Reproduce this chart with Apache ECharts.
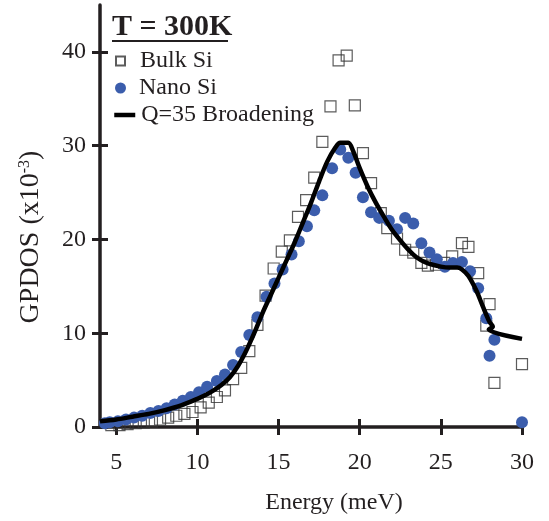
<!DOCTYPE html>
<html><head><meta charset="utf-8">
<script src="https://cdn.jsdelivr.net/npm/echarts@6/dist/echarts.min.js"></script>
<style>html,body{margin:0;padding:0;background:#fff}#c{width:549px;height:521px}</style>
</head><body><div id="c"></div>
<script>
const xTicks = [5, 10, 15, 20, 25, 30];
const yTicks = [0, 10, 20, 30, 40];
const titleText = 'T = 300K';
const legendNames = ['Bulk Si', 'Nano Si', 'Q=35 Broadening'];
const xName = 'Energy (meV)';
const yName = 'GPDOS (x10{sup|-3})';

const bulkSi = [[4.7,0.2],[5.2,0.2],[5.7,0.3],[6.2,0.4],[6.7,0.5],[7.2,0.6],[7.7,0.8],[8.2,1.0],[8.7,1.2],[9.2,1.4],[9.7,1.6],[10.2,2.1],[10.7,2.6],[11.2,3.2],[11.7,3.9],[12.2,5.1],[12.7,6.3],[13.2,8.1],[13.7,10.9],[14.2,14.0],[14.7,16.9],[15.2,18.7],[15.7,19.9],[16.2,22.4],[16.7,24.2],[17.2,26.6],[17.7,30.4],[18.2,34.2],[18.7,39.1],[19.2,39.6],[19.7,34.3],[20.2,29.2],[20.7,26.0],[21.3,22.8],[21.7,21.2],[22.3,20.1],[22.8,18.9],[23.3,18.6],[23.8,17.5],[24.2,17.2],[24.7,17.3],[25.2,17.5],[25.7,18.2],[26.3,19.6],[26.7,19.2],[27.3,16.4],[27.8,10.8],[28.0,13.1],[28.3,4.7],[30.0,6.7]];

const nanoSi = [[4.3,0.4],[4.6,0.5],[5.1,0.6],[5.6,0.8],[6.1,1.0],[6.6,1.2],[7.1,1.5],[7.6,1.7],[8.1,2.0],[8.6,2.4],[9.1,2.8],[9.6,3.2],[10.1,3.7],[10.6,4.3],[11.2,4.9],[11.7,5.6],[12.2,6.6],[12.7,8.0],[13.2,9.8],[13.7,11.7],[14.26,13.9],[14.75,15.3],[15.25,16.8],[15.8,18.4],[16.25,19.8],[16.75,21.4],[17.2,23.1],[17.7,24.7],[18.3,27.6],[18.8,29.6],[19.3,28.7],[19.75,27.1],[20.2,24.5],[20.7,22.9],[21.2,22.3],[21.8,22.0],[22.3,21.1],[22.8,22.3],[23.3,21.7],[23.8,19.6],[24.3,18.6],[24.75,17.9],[25.25,17.1],[25.75,17.5],[26.3,17.6],[26.8,16.6],[27.3,14.8],[27.8,11.6],[28.0,7.6],[28.3,9.3],[30.0,0.5]];

const broadening = [[4.0,0.6],[5,0.8],[6,1.1],[7,1.4],[8,1.8],[9,2.3],[10,3.0],[10.5,3.4],[11,3.9],[11.5,4.5],[12,5.3],[12.5,6.5],[13,8.1],[13.5,10.0],[14,12.1],[14.5,14.0],[15,15.9],[15.5,17.8],[16,19.7],[16.5,21.8],[17,23.9],[17.5,26.2],[18,28.3],[18.5,29.8],[18.8,30.3],[19.3,30.3],[19.6,29.4],[20,27.6],[20.5,25.6],[21,23.9],[21.5,22.4],[22,21.0],[22.5,19.9],[23,18.9],[23.5,18.1],[24,17.6],[24.5,17.3],[25,17.1],[25.5,17.0],[26,17.0],[26.3,16.8],[26.7,16.1],[27.2,14.5],[27.6,12.8],[28.0,11.2],[28.2,10.7],[27.95,10.4],[30,9.4]];

const INK = '#231f20';
const SERIF = '"Liberation Serif", "Times New Roman", serif';
const BLUE = '#3b5dac';

const chart = echarts.init(document.getElementById('c'), null, {renderer: 'canvas'});

const baseX = {
  type: 'value', min: 4, max: 30, gridIndex: 0, position: 'bottom',
  splitLine: {show: false}
};
const baseY = {
  type: 'value', min: 0, max: 45, gridIndex: 0, position: 'left',
  splitLine: {show: false}
};

const legendText = {fontFamily: SERIF, fontSize: 24, color: INK, lineHeight: 24};

chart.setOption({
  animation: false,
  backgroundColor: '#fff',
  grid: {left: 100, right: 27, top: 5, bottom: 94, containLabel: false, outerBoundsMode: 'none'},
  title: {
    text: titleText, left: 112, top: 12, padding: 0,
    textStyle: {fontFamily: SERIF, fontSize: 30, fontWeight: 'bold', color: INK, lineHeight: 30}
  },
  graphic: [{
    type: 'line', shape: {x1: 112, y1: 41, x2: 228, y2: 41},
    style: {stroke: INK, lineWidth: 2}
  }],
  legend: [
    {data: [legendNames[0]], left: 115, top: 49, padding: 0, itemWidth: 9, itemHeight: 9,
     selectedMode: false, textStyle: Object.assign({padding: [0,0,0,10]}, legendText)},
    {data: [legendNames[1]], left: 115, top: 76, padding: 0, itemWidth: 11, itemHeight: 11,
     selectedMode: false, textStyle: Object.assign({padding: [0,0,0,8]}, legendText)},
    {data: [legendNames[2]], left: 112, top: 103, padding: 0, itemWidth: 21, itemHeight: 4,
     selectedMode: false, lineStyle: {width: 4.5, color: '#000'},
     textStyle: Object.assign({padding: [0,0,0,1]}, legendText)}
  ],
  xAxis: [
    Object.assign({}, baseX, {
      name: xName, nameLocation: 'middle', nameGap: 64,
      nameTextStyle: {fontFamily: SERIF, fontSize: 24, color: INK, padding: [0,0,0,46]},
      axisLine: {show: true, onZero: false, lineStyle: {color: INK, width: 3.5}},
      axisTick: {show: true, inside: false, length: 8, lineStyle: {color: INK, width: 3}, customValues: xTicks},
      axisLabel: {show: true, margin: 24, fontFamily: SERIF, fontSize: 24, color: INK, customValues: xTicks}
    }),
    Object.assign({}, baseX, {
      axisLine: {show: false, onZero: false},
      axisTick: {show: true, inside: true, length: 8, lineStyle: {color: INK, width: 3}, customValues: xTicks},
      axisLabel: {show: false}
    })
  ],
  yAxis: [
    Object.assign({}, baseY, {
      name: yName, nameLocation: 'middle', nameGap: 55, nameRotate: 90,
      nameTextStyle: {fontFamily: SERIF, fontSize: 28, color: INK, padding: [0,42,0,0],
        rich: {sup: {fontFamily: SERIF, fontSize: 16, color: INK, verticalAlign: 'top', padding: [0,0,11,0]}}},
      axisLine: {show: true, onZero: false, lineStyle: {color: INK, width: 3.5}},
      axisTick: {show: true, inside: false, length: 8, lineStyle: {color: INK, width: 3}, customValues: yTicks},
      axisLabel: {show: true, margin: 14, fontFamily: SERIF, fontSize: 24, color: INK, customValues: yTicks}
    }),
    Object.assign({}, baseY, {
      axisLine: {show: false, onZero: false},
      axisTick: {show: true, inside: true, length: 8, lineStyle: {color: INK, width: 3}, customValues: yTicks},
      axisLabel: {show: false}
    })
  ],
  series: [
    {name: legendNames[0], type: 'scatter', data: bulkSi, symbol: 'rect', symbolSize: 11, z: 2,
     itemStyle: {color: 'rgba(255,255,255,0)', borderColor: '#333', borderWidth: 1.2}},
    {name: legendNames[1], type: 'scatter', data: nanoSi, symbol: 'circle', symbolSize: 12, z: 3,
     itemStyle: {color: BLUE, opacity: 1}},
    {name: legendNames[2], type: 'line', data: broadening, symbol: 'none', showSymbol: false, smooth: 0.3, z: 4,
     lineStyle: {color: '#000', width: 4.5}, itemStyle: {color: '#000'}}
  ]
});
</script>
</body></html>
